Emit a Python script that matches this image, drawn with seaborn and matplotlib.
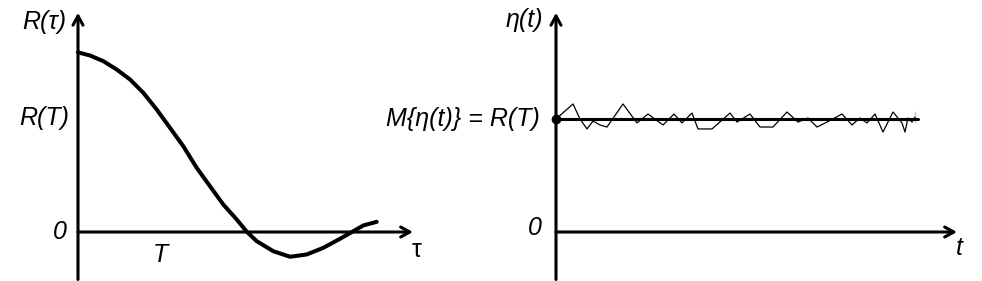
import matplotlib
matplotlib.use("Agg")
import matplotlib.pyplot as plt
import seaborn as sns
import pandas as pd

sns.set_theme(style="white")
plt.rcParams['font.family'] = ['Liberation Sans', 'DejaVu Sans']

# Left panel: correlation function R(tau)
tau = [0.0, 0.12, 0.253, 0.387, 0.52, 0.653, 0.787, 0.92, 1.053, 1.187, 1.32,
       1.453, 1.587, 1.69, 1.787, 1.953, 2.12, 2.287, 2.453, 2.62, 2.753, 2.853,
       2.987]
R_vals = [1.59, 1.562, 1.512, 1.438, 1.35, 1.232, 1.084, 0.922, 0.759, 0.568,
          0.405, 0.243, 0.111, 0.0, -0.081, -0.170, -0.219, -0.199, -0.140,
          -0.060, 0.007, 0.058, 0.090]

# Right panel: realisation eta(t) around its mean R(T)
t_vals = [0.0, 0.17, 0.24, 0.31, 0.37, 0.44, 0.51, 0.67, 0.81, 0.92, 1.07, 1.18,
          1.26, 1.36, 1.42, 1.56, 1.74, 1.81, 1.94, 2.04, 2.17, 2.31, 2.42, 2.52,
          2.61, 2.71, 2.86, 2.96, 3.04, 3.11, 3.19, 3.27, 3.37, 3.46, 3.49, 3.52,
          3.56, 3.59, 3.59]
eta_vals = [1.0, 1.133, 1.0, 0.912, 0.982, 0.947, 0.929, 1.133, 0.965, 1.044, 0.947,
            1.044, 0.965, 1.053, 0.912, 0.912, 1.053, 0.973, 1.044, 0.929, 0.929,
            1.062, 0.973, 1.009, 0.929, 0.973, 1.044, 0.947, 1.009, 0.965, 1.044,
            0.885, 1.062, 0.965, 0.885, 1.009, 0.973, 1.071, 0.965]
mean_t = [0.0, 3.62]
mean_eta = [1.0, 1.0]

left_df = pd.DataFrame({"tau": tau, "R": R_vals})
noise_df = pd.DataFrame({"t": t_vals, "eta": eta_vals})
mean_df = pd.DataFrame({"t": mean_t, "eta": mean_eta})

fig = plt.figure(figsize=(9.82, 2.81), dpi=100)
ax1 = fig.add_axes([0, 0, 0.5, 1])
ax2 = fig.add_axes([0.5, 0, 0.5, 1])

ylo, yhi = -0.4336, 2.0531
ax1.set_xlim(-0.78, 4.13)
ax1.set_ylim(ylo, yhi)
ax2.set_xlim(-0.65, 4.26)
ax2.set_ylim(ylo, yhi)
for ax in (ax1, ax2):
    ax.axis('off')

axis_lw = 2.2
arrow_style = '->,head_length=0.55,head_width=0.3'

def draw_axes(ax, xend):
    ax.annotate('', xy=(0, 1.94), xytext=(0, -0.42),
                arrowprops=dict(arrowstyle=arrow_style, lw=axis_lw, color='black',
                                shrinkA=0, shrinkB=0))
    ax.annotate('', xy=(xend, 0), xytext=(0, 0),
                arrowprops=dict(arrowstyle=arrow_style, lw=axis_lw, color='black',
                                shrinkA=0, shrinkB=0))

draw_axes(ax1, 3.35)
draw_axes(ax2, 4.01)

sns.lineplot(data=left_df, x="tau", y="R", ax=ax1, color='black', lw=2.9,
             sort=False, legend=False)
sns.lineplot(data=mean_df, x="t", y="eta", ax=ax2, color='black', lw=2.2,
             sort=False, legend=False)
sns.lineplot(data=noise_df, x="t", y="eta", ax=ax2, color='black', lw=0.9,
             sort=False, legend=False)
ax2.plot([0], [1.0], 'o', color='black', ms=6)

fs = 18
kw = dict(fontsize=fs, style='italic', color='black')
ax1.text(-0.12, 1.858, 'R(τ)', ha='right', va='center', **kw)
ax1.text(-0.09, 1.009, 'R(T)', ha='right', va='center', **kw)
ax1.text(-0.18, 0.0, '0', ha='center', va='center', **kw)
ax1.text(0.82, -0.20, 'T', ha='center', va='center', **kw)
ax1.text(3.39, -0.16, 'τ', ha='center', va='center', fontsize=fs, color='black')

ax2.text(-0.13, 1.876, 'η(t)', ha='right', va='center', **kw)
ax2.text(-0.16, 1.0, 'M{η(t)} = R(T)', ha='right', va='center', **kw)
ax2.text(-0.21, 0.035, '0', ha='center', va='center', **kw)
ax2.text(4.03, -0.14, 't', ha='center', va='center', **kw)

fig.savefig('out.png', dpi=100, facecolor='white')
